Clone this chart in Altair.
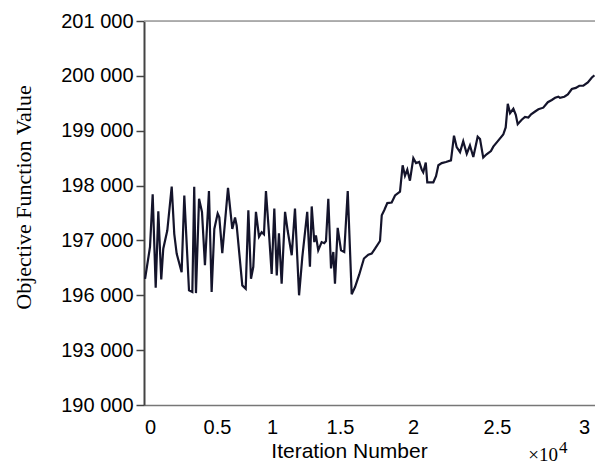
import altair as alt
import pandas as pd

# iteration numbers
iterations = [
    -370, 0, 200, 425, 620, 840, 990, 1290, 1620, 1810, 1990, 2360, 2560, 2910, 3160,
    3300, 3430, 3660, 3880, 4100, 4400, 4600, 4800, 5060, 5210, 5480, 6000, 6390, 6640,
    6790, 7300, 7610, 7850, 8090, 8300, 8540, 8820, 9060, 9270, 9450, 9730, 9970, 10170,
    10350, 10510, 10710, 10960, 11150, 11450, 11690, 11990, 12230, 12590, 12790, 12920,
    13110, 13230, 13400, 13650, 13840, 13970, 14140, 14340, 14510, 14630, 14830, 15070,
    15290, 15530, 15800,
    16030, 16320, 16640, 16940, 17170, 17400, 17740, 17860, 18030, 18240, 18540, 18770,
    19110, 19290, 19450, 19610, 19790, 20020, 20180, 20370, 20520, 20610, 20760, 20850,
    21210, 21370, 21510, 21710, 21960, 22260, 22440, 22600, 22800, 22990, 23200, 23390,
    23590, 23850, 23990, 24180, 24380, 24640, 24780, 25070, 25360, 25500, 25620, 25750,
    25940, 26080, 26190, 26420, 26610, 26800, 26960, 27190, 27380, 27660, 27920, 28150,
    28340, 28530, 28620, 28870, 29070, 29300, 29530, 29730, 29960, 30220, 30450, 30600,
]

objective = [
    196300, 196880, 197840, 196140, 197530, 196290, 196850, 197180, 197980, 197120,
    196760, 196420, 197820, 196090, 196060, 197980, 196040, 197760, 197520, 196550,
    197900, 196060, 197210, 197490, 197420, 196770, 197960, 197210, 197420, 197270,
    196180, 196120, 197550, 196300, 196520, 197520, 197070, 197150, 197110, 197900,
    197120, 196390, 197580, 196360, 197130, 196210, 197520, 197180, 196730, 197580,
    196000, 196700, 197520, 196520, 197620, 196970, 197090, 196820, 196970, 196950,
    196990, 197760, 196490, 196790, 196210, 197230, 196820, 196790, 197900, 196020,
    196150, 196380, 196670, 196740, 196760, 196850, 196990, 197460, 197550, 197680,
    197690, 197820, 197890, 198370, 198180, 198290, 198090, 198500, 198410, 198430,
    198290, 198240, 198420, 198060, 198060, 198170, 198370, 198410, 198430, 198460,
    198910, 198700, 198610, 198810, 198580, 198730, 198520, 198890, 198850, 198510,
    198570, 198630, 198710, 198820, 198930, 199060, 199490, 199320, 199400, 199290,
    199120, 199200, 199250, 199240, 199300, 199350, 199390, 199420, 199520, 199560,
    199600, 199620, 199600, 199620, 199660, 199760, 199780, 199820, 199820, 199880,
    199970, 200010,
]

x_ticks = [0, 5000, 10000, 15000, 20000, 25000, 30000]
y_ticks = [190000, 193000, 196000, 197000, 198000, 199000, 200000, 201000]

W, H = 451, 384

df = pd.DataFrame({"iteration": iterations, "objective": objective})

x_scale = alt.Scale(
    domain=[-450] + x_ticks + [30630],
    range=[0, 6, 73, 128, 196, 269, 353, 440, 451],
    nice=False, zero=False,
)
step = H / 7
y_scale = alt.Scale(
    domain=y_ticks,
    range=[H - i * step for i in range(8)],
    nice=False, zero=False,
)

line = alt.Chart(df).mark_line(color="#14142b", strokeWidth=2.2).encode(
    x=alt.X("iteration:Q", scale=x_scale,
            axis=alt.Axis(values=x_ticks, labelExpr="'' + datum.value / 10000",
                          title="Iteration Number", ticks=False, grid=False,
                          domainColor="#777777", domainWidth=1.5,
                          labelFont="Liberation Sans", labelFontSize=20,
                          labelColor="black", labelPadding=12, labelFlush=False,
                          labelOverlap=False,
                          titleFont="Liberation Sans", titleFontSize=21,
                          titleFontWeight="normal", titleColor="black",
                          titleX=205, titleY=52, titleAnchor="start",
                          titleAlign="center", titleBaseline="alphabetic")),
    y=alt.Y("objective:Q", scale=y_scale,
            axis=alt.Axis(values=y_ticks,
                          labelExpr="replace(format(datum.value, ','), ',', ' ')",
                          title="Objective Function Value", grid=False,
                          domainColor="#444444", domainWidth=2,
                          tickColor="#444444", tickWidth=1.5, tickSize=8,
                          labelFont="Liberation Sans", labelFontSize=20,
                          labelColor="black", labelPadding=3, labelOverlap=False,
                          labelFlush=False,
                          titleFont="Liberation Serif", titleFontSize=22,
                          titleFontWeight="normal", titleColor="black",
                          titleX=-121, titleY=176, titleAngle=-90,
                          titleAlign="center", titleBaseline="middle")),
)

one = pd.DataFrame({"k": [0]})
top_rule = alt.Chart(one).mark_rule(color="#999999", strokeWidth=1.5).encode(
    x=alt.value(0), x2=alt.value(W), y=alt.value(0)
)

mult = alt.Chart(one).mark_text(font="Liberation Serif", fontSize=19,
                                align="right", baseline="alphabetic",
                                color="black").encode(
    x=alt.value(414), y=alt.value(440), text=alt.value("×10")
)
expo = alt.Chart(one).mark_text(font="Liberation Serif", fontSize=17,
                                align="left", baseline="alphabetic",
                                color="black").encode(
    x=alt.value(415), y=alt.value(432), text=alt.value("4")
)

chart = alt.layer(line, top_rule, mult, expo).properties(
    width=W, height=H,
    autosize=alt.AutoSizeParams(type="none"),
    padding={"left": 144, "top": 21, "right": 0, "bottom": 59},
).configure_view(stroke=None).configure(background="white")

chart.save("out.html", embed_options={"renderer": "svg", "actions": False})
